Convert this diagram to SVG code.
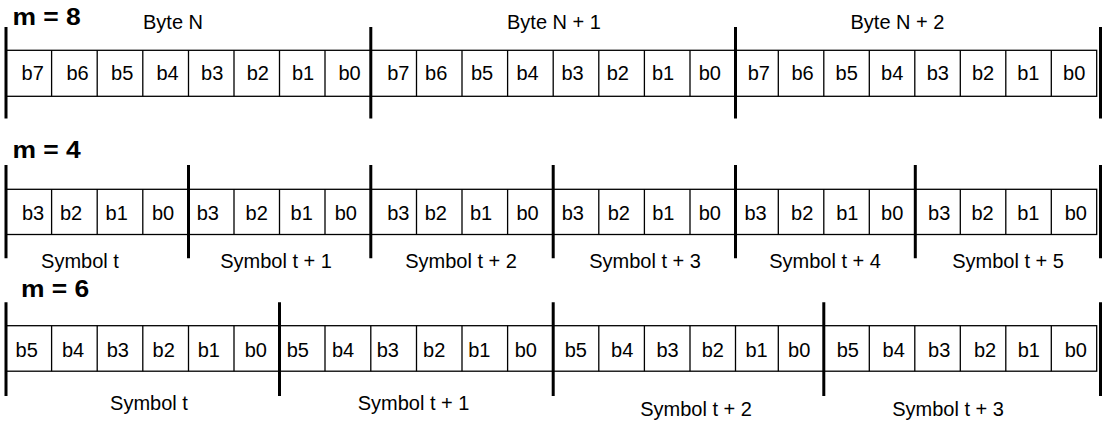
<svg xmlns="http://www.w3.org/2000/svg" width="1102" height="422" viewBox="0 0 1102 422">
<style>
.cell{fill:#fff;stroke:#000;stroke-width:1.3}
.div{fill:none;stroke:#000;stroke-width:1.3}
.bar{stroke:#000;stroke-width:3;fill:none}
text{font-family:"Liberation Sans",Arial,Helvetica,sans-serif;font-size:20px;fill:#000}
.c{text-anchor:middle}
.h{font-weight:bold;font-size:23px}
</style>
<rect width="1102" height="422" fill="#fff"/>

<!-- Row m = 8 -->
<g id="row-m8">
<text class="h" transform="translate(12.5 25) scale(1.15 1)">m = 8</text>
<g id="m8-byte-n">
<rect class="cell" x="6" y="50.3" width="364.8" height="46"/>
<path class="div" d="M51.6 50.3V96.3M97.2 50.3V96.3M142.8 50.3V96.3M188.5 50.3V96.3M234 50.3V96.3M279.5 50.3V96.3M325 50.3V96.3"/>
<text class="c" x="173" y="29">Byte N</text>
<text class="c" y="80"><tspan x="32.7">b7</tspan><tspan x="77.5">b6</tspan><tspan x="122.2">b5</tspan><tspan x="167.5">b4</tspan><tspan x="212.2">b3</tspan><tspan x="257.8">b2</tspan><tspan x="303">b1</tspan><tspan x="349.5">b0</tspan></text>
</g>
<g id="m8-byte-n1">
<rect class="cell" x="370.8" y="50.3" width="364.7" height="46"/>
<path class="div" d="M416.5 50.3V96.3M462 50.3V96.3M507.6 50.3V96.3M553.2 50.3V96.3M598.8 50.3V96.3M644.4 50.3V96.3M690 50.3V96.3"/>
<text class="c" x="554" y="29">Byte N + 1</text>
<text class="c" y="80"><tspan x="398.3">b7</tspan><tspan x="436.2">b6</tspan><tspan x="482">b5</tspan><tspan x="527.5">b4</tspan><tspan x="572.5">b3</tspan><tspan x="617.8">b2</tspan><tspan x="663">b1</tspan><tspan x="709.8">b0</tspan></text>
</g>
<g id="m8-byte-n2">
<rect class="cell" x="735.5" y="50.3" width="361.2" height="46"/>
<path class="div" d="M778.3 50.3V96.3M823.8 50.3V96.3M869.3 50.3V96.3M914.8 50.3V96.3M960.3 50.3V96.3M1005.8 50.3V96.3M1051.3 50.3V96.3"/>
<text class="c" x="897.5" y="29">Byte N + 2</text>
<text class="c" y="80"><tspan x="758.8">b7</tspan><tspan x="802.5">b6</tspan><tspan x="846.7">b5</tspan><tspan x="892.2">b4</tspan><tspan x="937.8">b3</tspan><tspan x="983">b2</tspan><tspan x="1028.3">b1</tspan><tspan x="1074.2">b0</tspan></text>
</g>
</g>

<!-- Row m = 4 -->
<g id="row-m4">
<text class="h" transform="translate(12.5 158) scale(1.15 1)">m = 4</text>
<g id="m4-sym-0">
<rect class="cell" x="6" y="189.3" width="182.5" height="45.2"/>
<path class="div" d="M51.6 189.3V234.5M97.2 189.3V234.5M142.8 189.3V234.5"/>
<text class="c" y="220"><tspan x="33">b3</tspan><tspan x="71">b2</tspan><tspan x="116.7">b1</tspan><tspan x="163">b0</tspan></text>
<text class="c" x="80" y="268">Symbol t</text>
</g>
<g id="m4-sym-1">
<rect class="cell" x="188.5" y="189.3" width="182.3" height="45.2"/>
<path class="div" d="M234 189.3V234.5M279.5 189.3V234.5M325 189.3V234.5"/>
<text class="c" y="220"><tspan x="207.8">b3</tspan><tspan x="256.7">b2</tspan><tspan x="301.7">b1</tspan><tspan x="345.8">b0</tspan></text>
<text class="c" x="276" y="268">Symbol t + 1</text>
</g>
<g id="m4-sym-2">
<rect class="cell" x="370.8" y="189.3" width="182.4" height="45.2"/>
<path class="div" d="M416.5 189.3V234.5M462 189.3V234.5M507.6 189.3V234.5"/>
<text class="c" y="220"><tspan x="398.3">b3</tspan><tspan x="435.8">b2</tspan><tspan x="481">b1</tspan><tspan x="527.5">b0</tspan></text>
<text class="c" x="461" y="268">Symbol t + 2</text>
</g>
<g id="m4-sym-3">
<rect class="cell" x="553.2" y="189.3" width="182.3" height="45.2"/>
<path class="div" d="M598.8 189.3V234.5M644.4 189.3V234.5M690 189.3V234.5"/>
<text class="c" y="220"><tspan x="572.8">b3</tspan><tspan x="618.8">b2</tspan><tspan x="663.3">b1</tspan><tspan x="709.8">b0</tspan></text>
<text class="c" x="645" y="268">Symbol t + 3</text>
</g>
<g id="m4-sym-4">
<rect class="cell" x="735.5" y="189.3" width="179.3" height="45.2"/>
<path class="div" d="M778.3 189.3V234.5M823.8 189.3V234.5M869.3 189.3V234.5"/>
<text class="c" y="220"><tspan x="755.5">b3</tspan><tspan x="802.2">b2</tspan><tspan x="847.3">b1</tspan><tspan x="892.2">b0</tspan></text>
<text class="c" x="825" y="268">Symbol t + 4</text>
</g>
<g id="m4-sym-5">
<rect class="cell" x="914.8" y="189.3" width="181.9" height="45.2"/>
<path class="div" d="M960.3 189.3V234.5M1005.8 189.3V234.5M1051.3 189.3V234.5"/>
<text class="c" y="220"><tspan x="939.2">b3</tspan><tspan x="982.5">b2</tspan><tspan x="1028.3">b1</tspan><tspan x="1075.8">b0</tspan></text>
<text class="c" x="1008" y="268">Symbol t + 5</text>
</g>
</g>

<!-- Row m = 6 -->
<g id="row-m6">
<text class="h" transform="translate(21 297) scale(1.15 1)">m = 6</text>
<g id="m6-sym-0">
<rect class="cell" x="6" y="325.7" width="273.5" height="45.5"/>
<path class="div" d="M51.6 325.7V371.2M97.2 325.7V371.2M142.8 325.7V371.2M188.5 325.7V371.2M234 325.7V371.2"/>
<text class="c" y="356.5"><tspan x="26.7">b5</tspan><tspan x="73">b4</tspan><tspan x="117.8">b3</tspan><tspan x="163.7">b2</tspan><tspan x="208.8">b1</tspan><tspan x="255.8">b0</tspan></text>
<text class="c" x="149" y="410">Symbol t</text>
</g>
<g id="m6-sym-1">
<rect class="cell" x="279.5" y="325.7" width="273.7" height="45.5"/>
<path class="div" d="M325 325.7V371.2M370.8 325.7V371.2M416.5 325.7V371.2M462 325.7V371.2M507.6 325.7V371.2"/>
<text class="c" y="356.5"><tspan x="297.8">b5</tspan><tspan x="343">b4</tspan><tspan x="387.8">b3</tspan><tspan x="434.2">b2</tspan><tspan x="479.3">b1</tspan><tspan x="525.8">b0</tspan></text>
<text class="c" x="413.5" y="410">Symbol t + 1</text>
</g>
<g id="m6-sym-2">
<rect class="cell" x="553.2" y="325.7" width="270.6" height="45.5"/>
<path class="div" d="M598.8 325.7V371.2M644.4 325.7V371.2M690 325.7V371.2M735.5 325.7V371.2M778.3 325.7V371.2"/>
<text class="c" y="356.5"><tspan x="575.8">b5</tspan><tspan x="622.2">b4</tspan><tspan x="667.5">b3</tspan><tspan x="712.8">b2</tspan><tspan x="756.5">b1</tspan><tspan x="799.2">b0</tspan></text>
<text class="c" x="696" y="416">Symbol t + 2</text>
</g>
<g id="m6-sym-3">
<rect class="cell" x="823.8" y="325.7" width="272.9" height="45.5"/>
<path class="div" d="M869.3 325.7V371.2M914.8 325.7V371.2M960.3 325.7V371.2M1005.8 325.7V371.2M1051.3 325.7V371.2"/>
<text class="c" y="356.5"><tspan x="847.8">b5</tspan><tspan x="893.7">b4</tspan><tspan x="939.2">b3</tspan><tspan x="985">b2</tspan><tspan x="1028.8">b1</tspan><tspan x="1075.8">b0</tspan></text>
<text class="c" x="948" y="416">Symbol t + 3</text>
</g>
</g>

<!-- Boundary markers -->
<g id="connectors">
<path class="bar" d="M6 27V118.5M370.8 27V118.5M735.5 27V118.5M1100.5 27V118.5"/>
<path class="bar" d="M6 165V258.3M188.5 165V258.3M370.8 165V258.3M553.2 165V258.3M735.5 165V258.3M915.3 165V258.3M1100.5 165V258.3"/>
<path class="bar" d="M6 302.3V396M279.5 302.3V396M553.2 302.3V396M823.8 302.3V396M1100.5 302.3V396"/>
</g>
</svg>
